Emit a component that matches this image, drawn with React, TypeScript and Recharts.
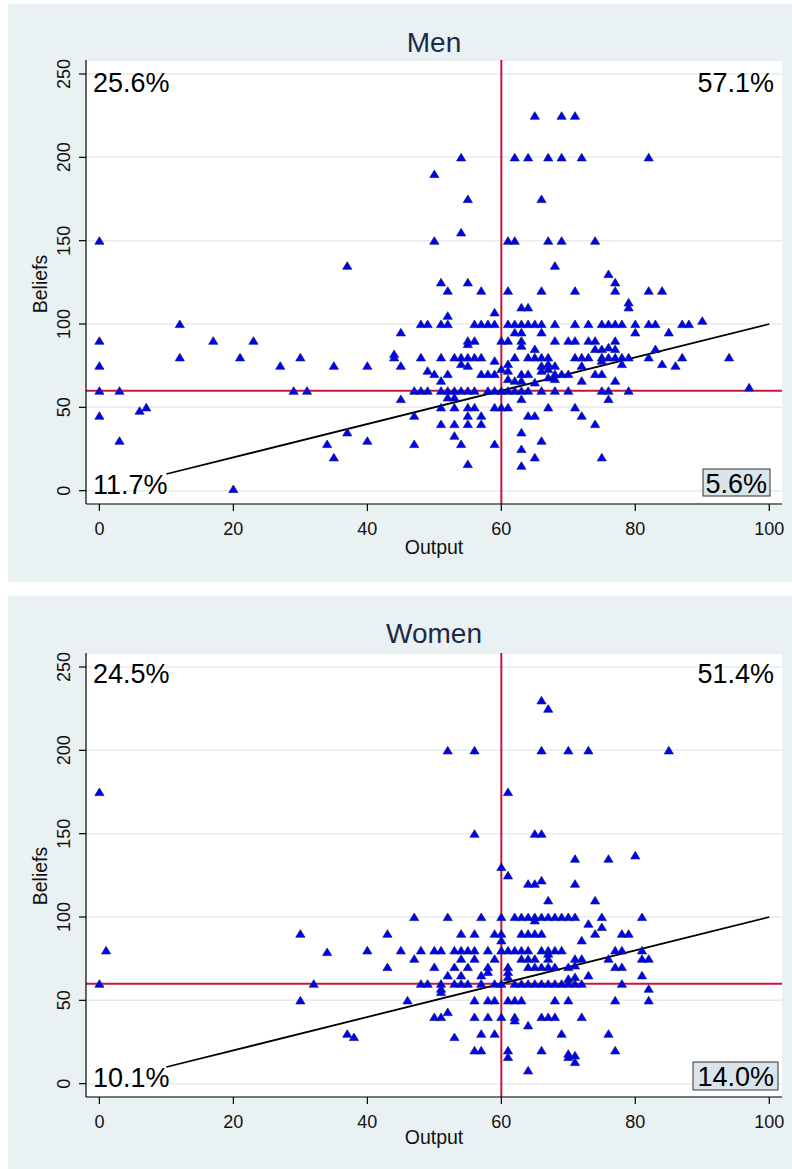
import React from 'react';
import { ScatterChart, Scatter, XAxis, YAxis, CartesianGrid, ReferenceLine, Customized } from 'recharts';

const xTicks = [0, 20, 40, 60, 80, 100];
const yTicks = [0, 50, 100, 150, 200, 250];
const panelTitles = ['Men', 'Women'];
const menQuadrantLabels = ['25.6%', '57.1%', '11.7%', '5.6%'];
const womenQuadrantLabels = ['24.5%', '51.4%', '10.1%', '14.0%'];
const thresholdOutput = 60;
const thresholdBeliefs = 60;
const fitLine = [{ x: 10, y: 10 }, { x: 100, y: 100 }];
const xLabel = 'Output';
const yLabel = 'Beliefs';

// [Output, Beliefs]
const menPoints: [number, number][] = [
  [0, 150], [37, 135],
  [65, 225], [69, 225], [71, 225],
  [54, 200], [62, 200], [64, 200], [67, 200], [69, 200], [72, 200], [82, 200],
  [50, 190], [55, 175], [66, 175],
  [50, 150], [61, 150], [62, 150], [67, 150], [69, 150], [74, 150], [54, 155],
  [68, 135], [76, 130], [77, 125], [51, 125], [55, 125],
  [52, 120], [57, 120], [61, 120], [66, 120], [71, 120], [77, 120], [82, 120], [84, 120],
  [79, 113], [79, 110], [63, 110], [64, 110], [59, 107], [52, 105],
  [0, 90], [0, 75], [0, 60], [0, 45], [3, 60], [3, 30], [6, 48], [7, 50], [12, 100], [12, 80],
  [17, 90], [21, 80], [23, 90], [27, 75], [29, 60], [30, 80], [31, 60], [34, 28], [35, 75], [35, 20],
  [37, 35], [20, 1], [40, 75], [40, 30], [44, 80], [44, 82], [45, 95], [45, 75], [45, 55],
  [48, 100], [49, 100], [51, 100], [52, 100], [56, 100], [57, 100], [58, 100], [59, 100], [61, 100],
  [62, 100], [63, 100], [64, 100], [65, 100], [66, 100], [68, 100], [71, 100], [73, 100], [75, 100],
  [76, 100], [77, 100], [78, 100], [80, 100], [82, 100], [83, 100], [87, 100], [88, 100], [90, 102],
  [62, 95], [63, 95], [66, 95], [80, 95], [85, 95],
  [55, 90], [56, 90], [60, 90], [61, 90], [63, 90], [68, 90], [70, 90], [71, 90], [73, 90], [74, 90],
  [77, 90], [55, 88], [63, 87],
  [65, 85], [74, 85], [75, 85], [76, 86], [77, 85], [83, 85],
  [48, 80], [51, 80], [53, 80], [54, 80], [55, 80], [56, 80], [57, 80], [62, 80], [64, 80], [65, 80],
  [66, 80], [67, 80], [71, 80], [72, 80], [73, 80], [75, 80], [76, 80], [77, 80], [78, 80], [79, 80],
  [82, 80], [87, 80], [94, 80],
  [59, 78], [75, 78], [54, 76], [55, 75], [67, 76], [66, 75], [68, 75], [78, 76],
  [61, 76], [72, 75], [84, 76], [86, 75],
  [49, 72], [50, 70], [52, 70], [60, 73], [61, 72], [67, 73], [66, 72],
  [57, 70], [58, 70], [59, 70], [63, 70], [64, 70], [68, 70], [69, 70], [70, 70], [74, 70], [75, 70],
  [67, 68], [68, 67],
  [51, 66], [61, 67], [62, 66], [63, 66], [65, 65], [72, 66], [77, 66],
  [47, 60], [48, 60], [49, 60], [51, 60], [52, 60], [53, 60], [54, 60], [55, 60], [56, 60], [58, 60],
  [59, 60], [60, 60], [61, 60], [62, 60], [63, 60], [64, 60], [66, 60], [68, 60], [70, 60], [75, 60],
  [76, 60], [79, 60], [97, 62],
  [52, 56], [53, 56], [63, 55], [76, 55],
  [51, 50], [53, 50], [55, 50], [56, 50], [59, 50], [60, 50], [61, 50], [67, 50], [71, 50],
  [47, 45], [55, 45], [57, 45], [64, 45], [65, 45], [72, 45],
  [51, 40], [53, 40], [55, 40], [57, 40], [74, 40],
  [63, 35], [53, 33], [66, 30], [47, 28], [54, 28], [59, 28], [63, 25], [65, 20], [75, 20], [55, 16], [63, 15],
];

const womenPoints: [number, number][] = [
  [0, 175], [66, 230], [67, 225],
  [52, 200], [56, 200], [66, 200], [70, 200], [73, 200], [85, 200],
  [61, 175], [56, 150], [65, 150], [66, 150], [71, 135], [76, 135], [80, 137], [60, 130], [61, 125],
  [64, 120], [65, 120], [66, 122], [71, 120], [67, 110], [74, 110],
  [0, 60], [1, 80], [30, 90], [30, 50], [32, 60], [34, 79], [37, 30], [38, 28], [40, 80], [43, 90], [43, 70], [45, 80],
  [47, 100], [52, 100], [57, 100], [60, 100], [62, 100], [63, 100], [64, 100], [65, 100], [66, 100],
  [67, 100], [68, 100], [69, 100], [70, 100], [71, 100], [75, 100], [81, 100], [65, 98],
  [73, 96], [75, 94], [74, 90],
  [54, 90], [56, 90], [59, 90], [60, 90], [63, 90], [64, 90], [65, 90], [66, 90], [78, 90], [79, 90],
  [72, 86], [60, 86],
  [48, 80], [50, 80], [51, 80], [53, 80], [54, 80], [55, 80], [56, 80], [58, 80], [60, 80], [61, 80],
  [62, 80], [63, 80], [64, 80], [66, 80], [67, 80], [68, 80], [69, 80], [77, 80], [78, 80], [81, 80], [67, 78],
  [47, 75], [54, 75], [56, 75], [59, 75], [63, 75], [64, 75], [65, 75], [67, 75], [71, 75], [72, 75],
  [76, 75], [81, 75], [82, 75],
  [50, 70], [53, 70], [55, 70], [58, 70], [61, 70], [64, 70], [65, 70], [66, 70], [67, 70], [68, 70],
  [70, 70], [71, 71], [77, 70], [78, 70],
  [52, 65], [54, 65], [57, 65], [58, 67], [61, 67], [61, 64], [73, 65], [81, 65], [70, 63], [71, 64],
  [48, 60], [49, 60], [51, 60], [53, 60], [54, 60], [55, 60], [57, 60], [59, 60], [60, 60], [62, 60],
  [63, 60], [64, 60], [65, 60], [66, 60], [67, 60], [68, 60], [69, 60], [70, 60], [71, 60], [72, 60],
  [78, 60], [82, 57], [51, 57], [51, 55],
  [46, 50], [56, 50], [58, 50], [59, 50], [61, 50], [62, 50], [63, 50], [68, 50], [70, 50], [77, 50], [82, 50],
  [50, 40], [51, 40], [52, 43], [56, 40], [58, 40], [60, 40], [62, 40], [62, 38], [66, 40], [67, 40], [68, 40], [72, 40],
  [64, 35], [57, 30], [59, 30], [69, 30], [76, 30], [53, 28],
  [56, 20], [57, 20], [61, 20], [61, 16], [66, 20], [70, 18], [71, 17], [71, 13], [70, 16], [77, 20], [64, 8],
];

const FONT = "'Liberation Sans', Arial, Helvetica, sans-serif";
const BG = '#EAF1F3';
const GRID = '#E4ECEF';
const RED = '#C8153D';
const BOXFILL = '#D9E5EB';

const Tri = (p: any) => {
  const { cx, cy } = p;
  if (cx == null || cy == null) return null;
  return (
    <polygon
      points={`${cx},${cy - 4} ${cx - 4.6},${cy + 3.6} ${cx + 4.6},${cy + 3.6}`}
      fill="#0000F2"
      stroke="#10207a"
      strokeWidth={0.7}
    />
  );
};

const XTick = (p: any) => (
  <text x={p.x} y={p.y + 22} textAnchor="middle" fontSize={18} fill="#111" fontFamily={FONT}>
    {p.payload.value}
  </text>
);

const YTick = (p: any) => {
  const x = p.x - 7;
  return (
    <text x={x} y={p.y} transform={`rotate(-90, ${x}, ${p.y})`} textAnchor="middle" fontSize={18} fill="#111" fontFamily={FONT}>
      {p.payload.value}
    </text>
  );
};

type PanelProps = {
  title: string;
  points: [number, number][];
  labels: string[];
  top: number;
  height: number;
  plotTop: number;
  box: { x: number; y: number; w: number; h: number; tx: number; ty: number };
  cornerBaselines: [number, number];
  titleBaseline: number;
  xLabelBaseline: number;
};

const Panel = ({ title, points, labels, top, height, plotTop, box, cornerBaselines, titleBaseline, xLabelBaseline }: PanelProps) => {
  const data = points.map(([x, y]) => ({ x, y }));
  const Annot = () => (
    <g fontFamily={FONT}>
      <text x={426} y={titleBaseline} textAnchor="middle" fontSize={28} fill="#1c2a48">{title}</text>
      <text x={85} y={cornerBaselines[0]} fontSize={27} fill="#000">{labels[0]}</text>
      <text x={766} y={cornerBaselines[0]} textAnchor="end" fontSize={27} fill="#000">{labels[1]}</text>
      <text x={85} y={cornerBaselines[1]} fontSize={27} fill="#000">{labels[2]}</text>
      <rect x={box.x} y={box.y} width={box.w} height={box.h} fill={BOXFILL} stroke="#333" strokeWidth={1} />
      <text x={box.tx} y={box.ty} textAnchor="end" fontSize={27} fill="#000">{labels[3]}</text>
      <text x={426} y={xLabelBaseline} textAnchor="middle" fontSize={19.5} fill="#111">{xLabel}</text>
      <text x={38.5} y={280} transform="rotate(-90, 38.5, 280)" textAnchor="middle" fontSize={19.5} fill="#111">{yLabel}</text>
    </g>
  );
  return (
    <div style={{ position: 'absolute', left: 8, top, width: 784, height, background: BG }}>
      <ScatterChart
        width={784}
        height={height}
        margin={{ top: plotTop, right: 10, bottom: height - plotTop - 444 - 50, left: 18 }}
      >
        <CartesianGrid vertical={false} fill="#ffffff" stroke={GRID} strokeWidth={1.5} />
        <XAxis
          type="number"
          dataKey="x"
          domain={[-2, 101.9]}
          ticks={xTicks}
          interval={0}
          allowDataOverflow
          height={50}
          tickSize={7}
          tick={XTick}
          axisLine={{ stroke: '#000', strokeWidth: 1.2 }}
          tickLine={{ stroke: '#000', strokeWidth: 1.2 }}
        />
        <YAxis
          type="number"
          dataKey="y"
          domain={[-8, 258.4]}
          ticks={yTicks}
          interval={0}
          allowDataOverflow
          width={60}
          tickSize={7}
          tick={YTick}
          axisLine={{ stroke: '#000', strokeWidth: 1.2 }}
          tickLine={{ stroke: '#000', strokeWidth: 1.2 }}
        />
        <ReferenceLine y={thresholdBeliefs} stroke={RED} strokeWidth={2} />
        <ReferenceLine x={thresholdOutput} stroke={RED} strokeWidth={2} />
        <Scatter data={data} shape={Tri} isAnimationActive={false} />
        <ReferenceLine segment={fitLine} stroke="#000" strokeWidth={1.8} ifOverflow="visible" />
        <Customized component={Annot} />
      </ScatterChart>
    </div>
  );
};

export default function App() {
  return (
    <div style={{ position: 'absolute', left: 0, top: 0, width: 792, height: 1169, background: '#fff', overflow: 'hidden' }}>
      <Panel
        title={panelTitles[0]}
        points={menPoints}
        labels={menQuadrantLabels}
        top={4}
        height={578}
        plotTop={56}
        box={{ x: 695, y: 465, w: 67, h: 27, tx: 759, ty: 489 }}
        cornerBaselines={[88, 490]}
        titleBaseline={48}
        xLabelBaseline={550}
      />
      <Panel
        title={panelTitles[1]}
        points={womenPoints}
        labels={womenQuadrantLabels}
        top={596}
        height={573}
        plotTop={57}
        box={{ x: 685, y: 466, w: 85, h: 28, tx: 766, ty: 490 }}
        cornerBaselines={[87, 491]}
        titleBaseline={47}
        xLabelBaseline={548}
      />
    </div>
  );
}
